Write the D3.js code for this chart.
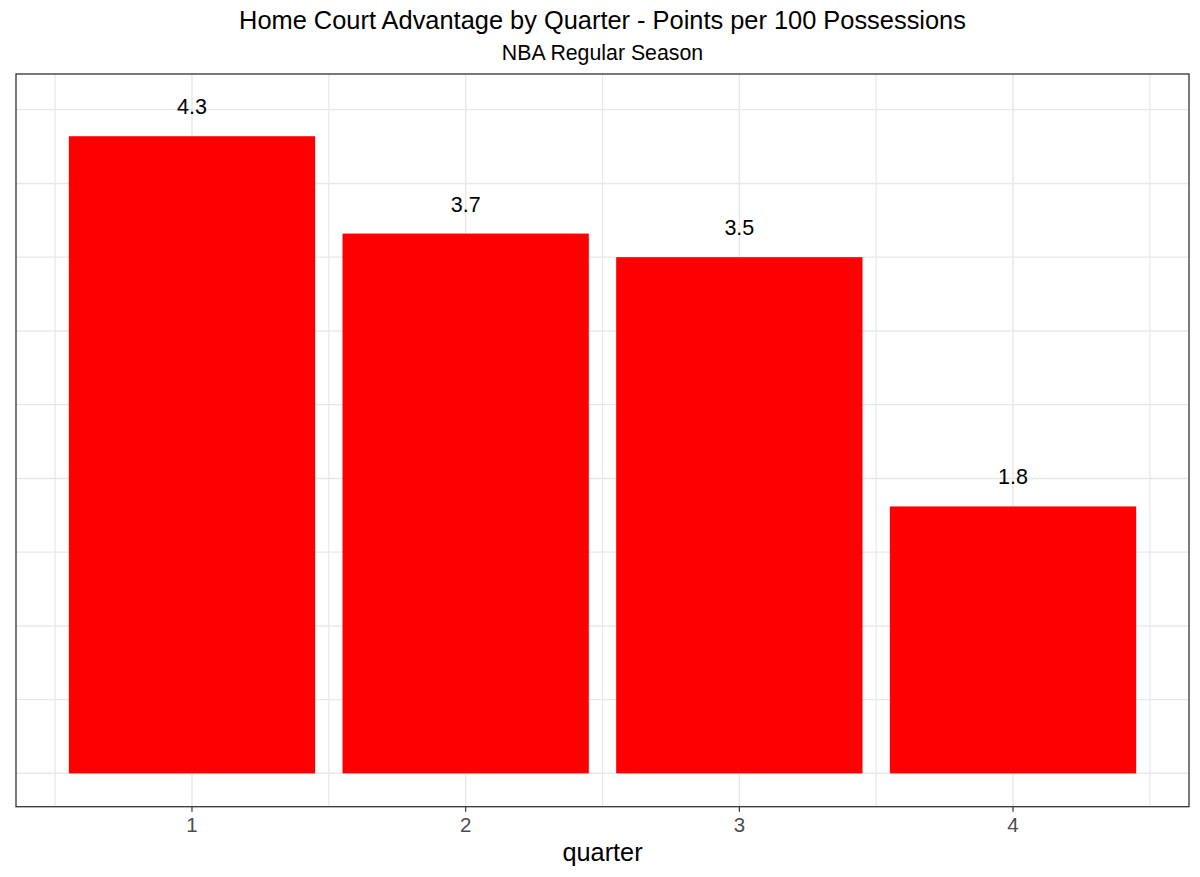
<!DOCTYPE html>
<html>
<head>
<meta charset="utf-8">
<script src="https://cdn.jsdelivr.net/npm/d3@7"></script>
<style>
  body { margin: 0; background: #fff; }
  text { font-family: "Liberation Sans", Arial, sans-serif; }
</style>
</head>
<body>
<svg></svg>
<script>
const quarters = ['1', '2', '3', '4'];
const advantage = [4.32, 3.66, 3.50, 1.81];
const majorBreaks = [0, 1, 2, 3, 4];
const minorBreaks = [0.5, 1.5, 2.5, 3.5, 4.5];

const data = quarters.map((q, i) => ({ quarter: q, value: advantage[i] }));

const svgWidth = 1200;
const svgHeight = 877;
const panel = { left: 16, right: 1189, top: 74, bottom: 806.7 };

const svg = d3.select('svg')
    .attr('width', svgWidth)
    .attr('height', svgHeight);

const xScale = d3.scaleBand()
    .domain(quarters)
    .range([panel.left, panel.right])
    .paddingInner(0.1)
    .paddingOuter(0.193);

const yScale = d3.scaleLinear()
    .domain([-0.226, 4.742])
    .range([panel.bottom, panel.top]);

const step = xScale.step();
const center = q => xScale(q) + xScale.bandwidth() / 2;

// gridlines
const grid = svg.append('g').attr('stroke', '#E8E8E8').attr('fill', 'none');

grid.selectAll('.hminor')
    .data(minorBreaks)
    .enter().append('line')
    .attr('x1', panel.left).attr('x2', panel.right)
    .attr('y1', d => yScale(d)).attr('y2', d => yScale(d))
    .attr('stroke-width', 1.2);

grid.selectAll('.hmajor')
    .data(majorBreaks)
    .enter().append('line')
    .attr('x1', panel.left).attr('x2', panel.right)
    .attr('y1', d => yScale(d)).attr('y2', d => yScale(d))
    .attr('stroke-width', 1.5);

const minorX = quarters.map(q => center(q) - step / 2)
    .concat([center(quarters[quarters.length - 1]) + step / 2]);

grid.selectAll('.vminor')
    .data(minorX)
    .enter().append('line')
    .attr('x1', d => d).attr('x2', d => d)
    .attr('y1', panel.top).attr('y2', panel.bottom)
    .attr('stroke-width', 1.2);

grid.selectAll('.vmajor')
    .data(quarters)
    .enter().append('line')
    .attr('x1', d => center(d)).attr('x2', d => center(d))
    .attr('y1', panel.top).attr('y2', panel.bottom)
    .attr('stroke-width', 1.5);

// bars
svg.selectAll('.bar')
    .data(data)
    .enter().append('rect')
    .attr('class', 'bar')
    .attr('x', d => xScale(d.quarter))
    .attr('y', d => yScale(d.value))
    .attr('width', xScale.bandwidth())
    .attr('height', d => yScale(0) - yScale(d.value))
    .attr('fill', '#FF0000');

// value labels
svg.selectAll('.label')
    .data(data)
    .enter().append('text')
    .attr('class', 'label')
    .attr('x', d => center(d.quarter))
    .attr('y', d => yScale(d.value + 0.2))
    .attr('dy', '0.35em')
    .attr('text-anchor', 'middle')
    .attr('fill', 'black')
    .attr('font-size', '21.5px')
    .text(d => d3.format('.1f')(d.value));

// panel border
svg.append('rect')
    .attr('x', panel.left)
    .attr('y', panel.top)
    .attr('width', panel.right - panel.left)
    .attr('height', panel.bottom - panel.top)
    .attr('fill', 'none')
    .attr('stroke', '#333333')
    .attr('stroke-width', 1.3);

// x axis
const xAxis = svg.append('g')
    .attr('transform', `translate(0, ${panel.bottom})`)
    .call(d3.axisBottom(xScale).tickSizeInner(5).tickSizeOuter(0).tickPadding(6));

xAxis.select('.domain').remove();
xAxis.selectAll('line').attr('stroke', '#333333').attr('stroke-width', 1.2);
xAxis.selectAll('text')
    .attr('font-size', '20.5px')
    .attr('fill', '#4D4D4D')
    .attr('font-family', '"Liberation Sans", Arial, sans-serif');

svg.append('text')
    .attr('x', (panel.left + panel.right) / 2)
    .attr('y', 861)
    .attr('text-anchor', 'middle')
    .attr('font-size', '25.3px')
    .attr('fill', 'black')
    .text('quarter');

// titles
svg.append('text')
    .attr('x', (panel.left + panel.right) / 2)
    .attr('y', 29)
    .attr('text-anchor', 'middle')
    .attr('font-size', '25.4px')
    .attr('fill', 'black')
    .text('Home Court Advantage by Quarter - Points per 100 Possessions');

svg.append('text')
    .attr('x', (panel.left + panel.right) / 2)
    .attr('y', 59.5)
    .attr('text-anchor', 'middle')
    .attr('font-size', '21.3px')
    .attr('fill', 'black')
    .text('NBA Regular Season');
</script>
</body>
</html>
